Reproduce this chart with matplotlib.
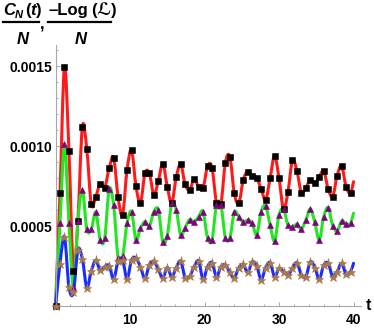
import numpy as np
import matplotlib.pyplot as plt
from matplotlib.path import Path
from matplotlib.patches import PathPatch
from matplotlib.lines import Line2D

plt.rcParams['font.family'] = ['Liberation Sans', 'DejaVu Sans']

# data
t_mk = np.arange(67) * 0.6            # sample times of the markers
t_end = 40.0                          # curves run on to t = 40

red_vals = [0, 0.000704, 0.001496, 0.000971, 0.000219, 0.000533, 0.00112, 0.000979,
            0.000635, 0.000683, 0.000765, 0.00074, 0.00086, 0.000927, 0.00068, 0.000569,
            0.00085, 0.000975, 0.00075, 0.000642, 0.000829, 0.000829, 0.000694, 0.000781,
            0.00089, 0.000746, 0.000642, 0.000804, 0.000886, 0.00076, 0.000725, 0.000794,
            0.000746, 0.000735, 0.000874, 0.000865, 0.000646, 0.000638, 0.000896, 0.000933,
            0.000704, 0.000642, 0.000788, 0.00084, 0.000815, 0.000802, 0.000731, 0.000663,
            0.000798, 0.00094, 0.000798, 0.000606, 0.000714, 0.000912, 0.000844, 0.000708,
            0.00074, 0.000788, 0.000767, 0.000808, 0.000844, 0.000731, 0.000683, 0.000815,
            0.000875, 0.000746, 0.000704]
red_end = 0.000777

green_vals = [0, 0.000517, 0.00101, 0.000517, 0.00012, 0.00053, 0.000725, 0.000479,
              0.000479, 0.000586, 0.000413, 0.000423, 0.00073, 0.000631, 0.0003, 0.00031,
              0.000517, 0.00059, 0.000413, 0.000485, 0.000527, 0.0005, 0.00059, 0.0006,
              0.000402, 0.00044, 0.000642, 0.0006, 0.000443, 0.00049, 0.00054, 0.000525,
              0.000558, 0.00059, 0.000426, 0.000413, 0.000631, 0.000631, 0.000427, 0.000427,
              0.000586, 0.000558, 0.000523, 0.000538, 0.000517, 0.000444, 0.00059, 0.000625,
              0.000506, 0.000406, 0.00057, 0.000606, 0.000506, 0.000496, 0.00051, 0.000481,
              0.000538, 0.000606, 0.000523, 0.000413, 0.000558, 0.000615, 0.000502, 0.000469,
              0.000531, 0.000513, 0.000517]
green_end = 0.00058

blue_vals = [0, 0.000265, 0.000433, 0.00012, 0.000085, 0.00035, 0.000295, 0.000115,
             0.000219, 0.000285, 0.000222, 0.000246, 0.000253, 0.000168, 0.00028, 0.00029,
             0.00017, 0.000288, 0.0003, 0.000243, 0.000173, 0.000258, 0.000279, 0.000229,
             0.000175, 0.00024, 0.000183, 0.00024, 0.00028, 0.000177, 0.000185, 0.000246,
             0.000281, 0.000168, 0.000246, 0.000271, 0.000183, 0.000246, 0.000256, 0.00021,
             0.000177, 0.00024, 0.00026, 0.00021, 0.000277, 0.00025, 0.000165, 0.00024,
             0.000271, 0.000183, 0.000235, 0.000215, 0.000194, 0.000235, 0.000271, 0.000194,
             0.000183, 0.000277, 0.00024, 0.000169, 0.000256, 0.000267, 0.000183, 0.000215,
             0.000267, 0.000198, 0.000215]
blue_end = 0.000267

y_ticks = [0.0005, 0.0010, 0.0015]
y_labels = ['0.0005', '0.0010', '0.0015']
x_ticks = [10, 20, 30, 40]

W, H = 374, 332
fig = plt.figure(figsize=(W/100, H/100), dpi=100)
ax = fig.add_axes([51.8/W, 26/H, 309.2/W, 260.8/H])


def smooth_path(x, y):
    # cubic Hermite through the points, drawn as bezier segments
    x = np.asarray(x, float)
    y = np.asarray(y, float)
    m = np.empty_like(y)
    m[1:-1] = (y[2:] - y[:-2]) / (x[2:] - x[:-2])
    m[0] = (y[1] - y[0]) / (x[1] - x[0])
    m[-1] = (y[-1] - y[-2]) / (x[-1] - x[-2])
    verts = [(x[0], y[0])]
    codes = [Path.MOVETO]
    for i in range(len(x) - 1):
        h = x[i+1] - x[i]
        verts += [(x[i] + h/3, y[i] + m[i]*h/3),
                  (x[i+1] - h/3, y[i+1] - m[i+1]*h/3),
                  (x[i+1], y[i+1])]
        codes += [Path.CURVE4] * 3
    return Path(verts, codes)


series = [(red_vals, red_end, '#ff1a1a', 's', 'black', 3.8),
          (green_vals, green_end, '#22e622', '^', '#800080', 4.8),
          (blue_vals, blue_end, '#1a2cff', '*', '#a87a4c', 6.5)]

for vals, end, col, mk, mcol, ms in series:
    tt = np.append(t_mk, t_end)
    yy = np.append(vals, end)
    ax.add_patch(PathPatch(smooth_path(tt, yy), fill=False, edgecolor=col, lw=2.2,
                           capstyle='round', joinstyle='round', zorder=2))

for vals, end, col, mk, mcol, ms in series:
    ax.plot(t_mk, vals, ls='none', marker=mk, color=mcol, ms=ms, mew=0.4,
            mec=mcol, zorder=3, clip_on=False)

ax.set_xlim(-0.5, 41)
ax.set_ylim(0, 0.00163)

for s in ['top', 'right']:
    ax.spines[s].set_visible(False)
ax.spines['left'].set_position(('data', 0))
ax.spines['bottom'].set_position(('data', 0))
for s in ['left', 'bottom']:
    ax.spines[s].set_color('#a8a8a8')
    ax.spines[s].set_linewidth(0.8)

ax.set_xticks(x_ticks)
ax.set_xticks(np.arange(2, 41, 2), minor=True)
ax.set_yticks(y_ticks)
ax.set_yticklabels(y_labels)
ax.set_yticks(np.arange(0.0001, 0.00161, 0.0001), minor=True)
ax.tick_params(which='both', direction='in', color='#a8a8a8', width=0.7)
ax.tick_params(which='major', length=3.0, labelsize=10)
ax.tick_params(which='minor', length=1.6)
ax.tick_params(axis='y', pad=2.5)
ax.tick_params(axis='x', pad=5)
for lab in ax.get_xticklabels() + ax.get_yticklabels():
    lab.set_fontweight('bold')

# axis name at the end of the t axis
fig.text(366/W, 1 - 306/H, 't', fontsize=11.5, fontweight='bold', va='center', ha='left')

# stacked fraction label at the top left
renderer = fig.canvas.get_renderer()


def put(x, y, s, size, style='normal'):
    txt = fig.text(x/W, 1 - y/H, s, fontsize=size, fontweight='bold', fontstyle=style,
                   ha='left', va='baseline')
    return x + txt.get_window_extent(renderer).width


x = put(3, 15, 'C', 12, 'italic')
x = put(x, 18, 'N', 8, 'italic')
x = put(x + 2, 15, '(', 12)
x = put(x, 15, 't', 12, 'italic')
put(x, 15, ')', 12)
x = put(48, 15, '\u2013Log', 12)
x = put(x + 3, 15, '(', 12)
x = put(x, 15, '\u2112', 12)
put(x, 15, ')', 12)
put(17, 44, 'N', 12, 'italic')
put(75, 44, 'N', 12, 'italic')
put(40, 29, ',', 12)
fig.add_artist(Line2D([2.5/W, 39/W], [1 - 21.5/H, 1 - 21.5/H], color='black', lw=1.6))
fig.add_artist(Line2D([47.5/W, 111/W], [1 - 21.5/H, 1 - 21.5/H], color='black', lw=1.6))

fig.savefig('out.png', dpi=100)
